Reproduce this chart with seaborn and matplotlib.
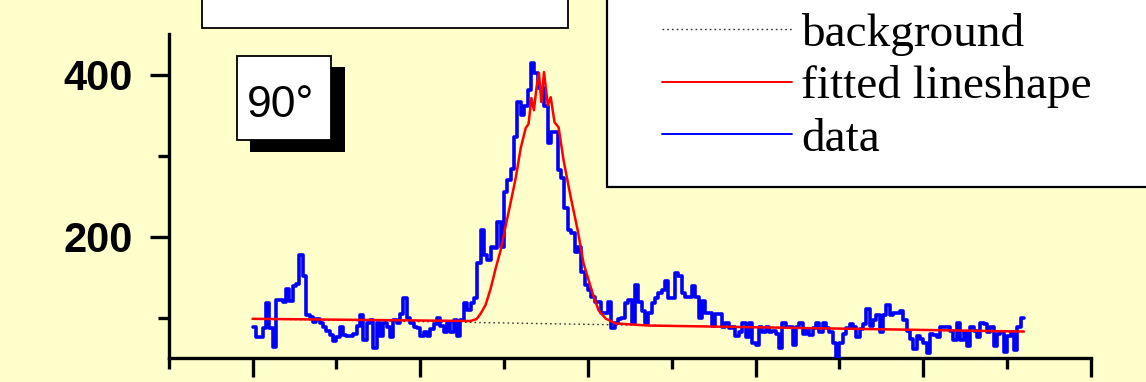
import numpy as np
import pandas as pd
import matplotlib
matplotlib.use("Agg")
import matplotlib.pyplot as plt
import seaborn as sns
from matplotlib.patches import Rectangle
from matplotlib.transforms import Affine2D
from matplotlib.ticker import MultipleLocator, FixedLocator
from matplotlib.font_manager import FontProperties

# ---- spectrum: counts per 2-channel bin, starting at channel 100 ----
bin_start = 100
bin_width = 2
data_counts = [
    89, 76, 76, 87, 118, 87, 64, 122, 122, 120,
    135, 121, 139, 142, 177, 152, 104, 101, 95, 98,
    93, 89, 84, 79, 71, 76, 88, 79, 77, 77,
    80, 90, 103, 73, 93, 97, 63, 93, 78, 93,
    88, 76, 97, 93, 105, 124, 100, 93, 89, 87,
    78, 82, 78, 86, 92, 100, 90, 83, 93, 83,
    97, 78, 97, 118, 109, 118, 124, 167, 208, 177,
    171, 187, 186, 218, 187, 255, 270, 284, 323, 366,
    350, 361, 381, 414, 402, 383, 383, 361, 315, 329,
    329, 282, 272, 235, 208, 204, 181, 187, 156, 140,
    134, 125, 119, 119, 106, 106, 120, 87, 93, 99,
    100, 118, 122, 93, 141, 119, 108, 93, 106, 118,
    124, 130, 134, 145, 124, 124, 155, 152, 131, 125,
    125, 139, 125, 100, 121, 106, 106, 90, 105, 105,
    89, 93, 87, 88, 78, 82, 94, 76, 94, 69,
    66, 88, 82, 89, 82, 84, 80, 63, 94, 89,
    89, 66, 89, 93, 80, 86, 79, 87, 94, 82,
    94, 87, 83, 69, 52, 69, 80, 87, 92, 88,
    76, 86, 92, 111, 90, 97, 104, 82, 104, 116,
    103, 106, 106, 108, 97, 84, 74, 61, 78, 74,
    69, 56, 80, 79, 76, 88, 88, 88, 84, 72,
    94, 72, 82, 65, 89, 84, 76, 93, 92, 82,
    88, 65, 80, 83, 58, 77, 83, 60, 89, 100,
]

# fitted lineshape (channel, counts)
fit_channel = [100, 230, 233.6, 236, 239, 242, 245, 247.9, 250.9, 253.9,
               256.9, 259.9, 262.9, 264.6, 266.3, 267.8, 269.4, 270.8, 272.2, 273.8,
               276.1, 277.8, 280.1, 282.5, 285.5, 289.7, 293.9, 297.4, 302.8, 306.4,
               310.6, 316.5, 336.2, 560]
fit_counts = [98.7, 96.0, 98.4, 105, 116, 136, 161, 183, 213, 242,
              272, 309, 334, 339, 371, 356, 385, 402, 366, 403,
              362, 372, 341, 335, 294, 249, 208, 167, 130, 109,
              99, 93, 90.4, 83]

# linear background under the peak
bg_channel = [100, 560]
bg_counts = [98.7, 83.0]

legend_labels = ["background", "fitted lineshape", "data"]
angle_label = "90°"

# ---- figure ----
W, H = 1146, 382
sns.set_style("ticks")
plt.rcParams["font.family"] = ["Liberation Sans", "DejaVu Sans"]
cream = "#FFFFCC"

fig = plt.figure(figsize=(W / 100, H / 100), dpi=100, facecolor=cream)
ax = fig.add_axes([168.7 / W, 1 - 358.3 / H, (1091 - 168.7) / W, (358.3 - 34) / H])
ax.set_facecolor(cream)

# pixel-style transform (origin top-left) for the decorations
pix = Affine2D().scale(1 / W, -1 / H).translate(0, 1) + fig.transFigure

# step histogram: repeat the last value so the final bin is closed
edges = bin_start + bin_width * np.arange(len(data_counts) + 1)
step_df = pd.DataFrame({"channel": edges, "counts": data_counts + [data_counts[-1]]})
fit_df = pd.DataFrame({"channel": fit_channel, "counts": fit_counts})
bg_df = pd.DataFrame({"channel": bg_channel, "counts": bg_counts})

sns.lineplot(data=bg_df, x="channel", y="counts", ax=ax, color="#333333",
             linewidth=1.0, linestyle=(0, (1.2, 2.2)), legend=False, zorder=2)
sns.lineplot(data=step_df, x="channel", y="counts", ax=ax, color="#0000FF",
             linewidth=2.6, drawstyle="steps-post", legend=False, zorder=3)
sns.lineplot(data=fit_df, x="channel", y="counts", ax=ax, color="#FF0000",
             linewidth=1.8, legend=False, zorder=4)
bg_line, data_line, fit_line = ax.lines[0], ax.lines[1], ax.lines[2]

ax.set_xlim(50, 600)
ax.set_ylim(50, 450)
ax.set_xlabel("")
ax.set_ylabel("")

ax.xaxis.set_major_locator(MultipleLocator(100))
ax.xaxis.set_minor_locator(MultipleLocator(50))
ax.yaxis.set_major_locator(FixedLocator([200, 400]))
ax.yaxis.set_minor_locator(FixedLocator([100, 300]))

for side in ("top", "right"):
    ax.spines[side].set_visible(False)
for side in ("left", "bottom"):
    ax.spines[side].set_linewidth(2.4)
    ax.spines[side].set_color("black")

ax.tick_params(axis="both", which="major", direction="out", length=14, width=2.4, color="black")
ax.tick_params(axis="both", which="minor", direction="out", length=8, width=2.4, color="black")
ax.tick_params(axis="x", which="both", labelbottom=False)
ax.tick_params(axis="y", which="major", pad=12, labelsize=30, labelcolor="black")
for lab in ax.get_yticklabels():
    lab.set_fontweight("bold")
    lab.set_family(["Liberation Sans", "DejaVu Sans"])

# box at the top left (cut by the figure edge)
ax.add_artist(Rectangle((202, 28.3), 366, -60, transform=pix, facecolor="white",
                        edgecolor="black", linewidth=1.3, clip_on=False, zorder=5))

# angle label with drop shadow
ax.add_artist(Rectangle((250, 152), 95, -85.3, transform=pix, facecolor="black",
                        edgecolor="black", linewidth=0, clip_on=False, zorder=5))
ax.add_artist(Rectangle((237, 140), 94, -84.3, transform=pix, facecolor="white",
                        edgecolor="black", linewidth=1.3, clip_on=False, zorder=6))
ax.text(246.7, 116.7, angle_label, transform=pix, fontsize=32, va="baseline", ha="left",
        family=["Liberation Sans", "DejaVu Sans"], color="black", zorder=7, clip_on=False)

# legend panel
ax.add_artist(Rectangle((607.3, 186.7), 600, -260, transform=pix, facecolor="white",
                        edgecolor="black", linewidth=1.6, clip_on=False, zorder=6))
leg = ax.legend(handles=[bg_line, fit_line, data_line], labels=legend_labels,
                loc="upper left", bbox_to_anchor=(662, 12.5), bbox_transform=pix,
                frameon=False, borderpad=0, borderaxespad=0,
                handlelength=2.75, handletextpad=0.2, labelspacing=0.2,
                prop=FontProperties(family="Liberation Serif", size=34))
leg.set_zorder(9)
for txt in leg.get_texts():
    txt.set_color("black")
for h in leg.legend_handles:
    h.set_linewidth(1.0 if h.get_color() == "#333333" else 1.4)

fig.savefig("out.png", dpi=100, facecolor=cream)
